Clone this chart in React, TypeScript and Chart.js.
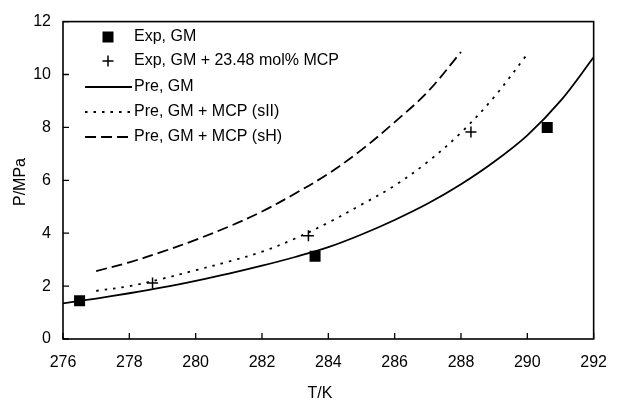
import { useEffect, useRef } from "react";
import { Chart, registerables } from "chart.js";

Chart.register(...registerables);

const FONT = "'Liberation Sans', Arial, Helvetica, sans-serif";
const FONT_SIZE = 16;

// Experimental hydrate equilibrium points
const expGmT = [276.5, 283.6, 290.6];
const expGmP = [1.45, 3.13, 8.0];
const expMixT = [278.7, 283.4, 288.3];
const expMixP = [2.12, 3.9, 7.83];

// Predicted equilibrium curves
const preGmT = [276, 277, 278, 279, 280, 281, 282, 283, 284, 285, 286, 287, 288, 289, 290, 291, 292];
const preGmP = [1.35, 1.53, 1.73, 1.95, 2.2, 2.47, 2.77, 3.1, 3.47, 3.95, 4.5, 5.12, 5.85, 6.7, 7.7, 9.0, 10.65];

const preSIIT = [277, 278, 279, 280, 281, 282, 283, 284, 285, 286, 287, 288, 289, 290];
const preSIIP = [1.82, 2.0, 2.28, 2.6, 2.93, 3.3, 3.8, 4.4, 5.08, 5.8, 6.7, 7.8, 9.15, 10.77];

const preSHT = [277, 278, 279, 280, 281, 282, 283, 284, 285, 286, 287, 288];
const preSHP = [2.57, 2.9, 3.3, 3.75, 4.25, 4.82, 5.5, 6.25, 7.15, 8.2, 9.35, 10.85];

const legendLabels = [
  "Exp, GM",
  "Exp, GM + 23.48 mol% MCP",
  "Pre, GM",
  "Pre, GM + MCP (sII)",
  "Pre, GM + MCP (sH)",
];

const xTitle = "T/K";
const yTitle = "P/MPa";

const toPoints = (xs: number[], ys: number[]) => xs.map((x, i) => ({ x, y: ys[i] }));

const DOTTED = [2.5, 6];
const DASHED = [11, 5];
const LINE_W = 1.8;

// Frame, inward tick marks, axis titles and an in-plot legend
const framePlugin = {
  id: "frame",
  afterDraw(chart: any) {
    const { ctx, chartArea } = chart;
    const { left, right, top, bottom } = chartArea;
    const xs = chart.scales.x;
    const ys = chart.scales.y;
    ctx.save();
    ctx.strokeStyle = "#000";
    ctx.lineWidth = 1.6;
    ctx.setLineDash([]);
    ctx.strokeRect(left, top, right - left, bottom - top);

    ctx.lineWidth = 1.3;
    ctx.beginPath();
    xs.ticks.forEach((t: any) => {
      const px = xs.getPixelForValue(t.value);
      ctx.moveTo(px, bottom);
      ctx.lineTo(px, bottom - 6);
    });
    ys.ticks.forEach((t: any) => {
      const py = ys.getPixelForValue(t.value);
      ctx.moveTo(left, py);
      ctx.lineTo(left + 6, py);
    });
    ctx.stroke();

    ctx.fillStyle = "#000";
    ctx.font = `${FONT_SIZE}px ${FONT}`;
    ctx.textBaseline = "middle";
    ctx.textAlign = "center";
    ctx.fillText(xTitle, 320, 394);
    ctx.save();
    ctx.translate(21, 182);
    ctx.rotate(-Math.PI / 2);
    ctx.fillText(yTitle, 0, 0);
    ctx.restore();

    // legend
    const sx0 = 85;
    const sx1 = 132;
    const mx = 108;
    const tx = 134;
    const rowY = [37, 61, 87, 112, 137];
    ctx.textAlign = "left";
    legendLabels.forEach((label, i) => {
      ctx.fillText(label, tx, rowY[i]);
    });
    // square marker
    ctx.fillRect(mx - 5.5, rowY[0] - 5.5, 11, 11);
    // cross marker
    ctx.lineWidth = 1.5;
    ctx.beginPath();
    ctx.moveTo(mx - 5.5, rowY[1]);
    ctx.lineTo(mx + 5.5, rowY[1]);
    ctx.moveTo(mx, rowY[1] - 5.5);
    ctx.lineTo(mx, rowY[1] + 5.5);
    ctx.stroke();
    // line samples
    const samples: number[][] = [[], DOTTED, DASHED];
    samples.forEach((dash, k) => {
      const y = rowY[2 + k];
      ctx.setLineDash(dash);
      ctx.lineWidth = LINE_W;
      ctx.beginPath();
      ctx.moveTo(sx0, y);
      ctx.lineTo(sx1, y);
      ctx.stroke();
    });
    ctx.restore();
  },
};

export default function App() {
  const canvasRef = useRef<HTMLCanvasElement | null>(null);

  useEffect(() => {
    const canvas = canvasRef.current;
    if (!canvas) return;
    const chart = new Chart(canvas, {
      type: "scatter",
      data: {
        datasets: [
          {
            label: legendLabels[2],
            data: toPoints(preGmT, preGmP),
            showLine: true,
            borderColor: "#000",
            borderWidth: LINE_W,
            pointRadius: 0,
            tension: 0.35,
          },
          {
            label: legendLabels[3],
            data: toPoints(preSIIT, preSIIP),
            showLine: true,
            borderColor: "#000",
            borderWidth: LINE_W,
            borderDash: DOTTED,
            pointRadius: 0,
            tension: 0.35,
          },
          {
            label: legendLabels[4],
            data: toPoints(preSHT, preSHP),
            showLine: true,
            borderColor: "#000",
            borderWidth: LINE_W,
            borderDash: DASHED,
            pointRadius: 0,
            tension: 0.35,
          },
          {
            label: legendLabels[0],
            data: toPoints(expGmT, expGmP),
            showLine: false,
            pointStyle: "rect",
            pointRadius: 7.8,
            backgroundColor: "#000",
            borderColor: "#000",
            borderWidth: 0,
          },
          {
            label: legendLabels[1],
            data: toPoints(expMixT, expMixP),
            showLine: false,
            pointStyle: "cross",
            pointRadius: 5.5,
            borderColor: "#000",
            borderWidth: 1.5,
          },
        ],
      },
      options: {
        responsive: false,
        animation: false,
        layout: { padding: { left: 0, top: 17, right: 15, bottom: 0 } },
        plugins: {
          legend: { display: false },
          tooltip: { enabled: false },
        },
        scales: {
          x: {
            type: "linear",
            min: 276,
            max: 292,
            grid: { display: false, drawTicks: false },
            border: { display: false },
            ticks: {
              stepSize: 2,
              color: "#000",
              font: { family: FONT, size: FONT_SIZE },
              padding: 14,
              maxRotation: 0,
            },
            afterFit: (scale: any) => {
              scale.height = 63;
            },
          },
          y: {
            type: "linear",
            min: 0,
            max: 12,
            grid: { display: false, drawTicks: false },
            border: { display: false },
            ticks: {
              stepSize: 2,
              color: "#000",
              font: { family: FONT, size: FONT_SIZE },
              padding: 12,
            },
            afterFit: (scale: any) => {
              scale.width = 63;
            },
          },
        },
      },
      plugins: [framePlugin],
    });
    return () => chart.destroy();
  }, []);

  return (
    <div style={{ position: "fixed", left: 0, top: 0, width: 621, height: 402, background: "#fff" }}>
      <canvas ref={canvasRef} width={621} height={402} style={{ width: 621, height: 402 }} />
    </div>
  );
}
